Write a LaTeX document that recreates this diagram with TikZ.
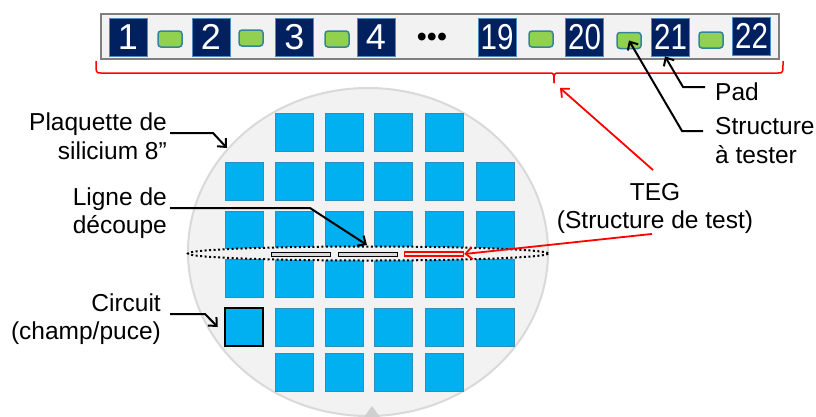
\documentclass[tikz,border=0pt]{standalone}
\usepackage{fontspec}
\setmainfont{Liberation Sans}
\usetikzlibrary{arrows.meta}
\definecolor{navy}{HTML}{002060}
\definecolor{padgreen}{HTML}{92D050}
\definecolor{padedge}{HTML}{31859C}
\definecolor{numedge}{HTML}{4F8AC0}
\definecolor{chipblue}{HTML}{00B0F0}
\definecolor{chipedge}{HTML}{2C8FBF}
\definecolor{wafer}{HTML}{F2F2F2}
\definecolor{waferedge}{HTML}{D9D9D9}
\definecolor{notchgray}{HTML}{D0D0D0}
\definecolor{stripedge}{HTML}{7F7F7F}
\definecolor{tsgray}{HTML}{D9D9D9}
\definecolor{pptred}{HTML}{FF0000}
\begin{document}
\begin{tikzpicture}[x=1pt,y=-1pt,
  numbox/.style={fill=navy, draw=numedge, line width=0.8pt, minimum width=38pt, minimum height=38pt, inner sep=0pt, text=white, font=\fontsize{36}{36}\selectfont},
  padbox/.style={fill=padgreen, draw=padedge, line width=1.5pt, rounded corners=3pt, minimum width=24pt, minimum height=16pt, inner sep=0pt},
  chip/.style={fill=chipblue, draw=chipedge, line width=0.8pt, minimum size=38pt, inner sep=0pt},
  lbl/.style={font=\fontsize{24.5}{28.5}\selectfont, inner sep=0pt},
  arr/.style={draw=black, line width=2pt, -{Straight Barb[length=6.5pt,width=12pt]}},
  redarr/.style={draw=pptred, line width=1.8pt, -{Straight Barb[length=6.5pt,width=12pt]}},
  tsbox/.style={fill=tsgray, draw=black, line width=0.8pt, minimum width=59pt, minimum height=4pt, inner sep=0pt}]
\useasboundingbox (0,0) rectangle (816,416);
% wafer
\draw[fill=wafer, draw=waferedge, line width=2pt] (368,252) ellipse [x radius=180, y radius=164];
\fill[notchgray] (364,417) -- (372,406) -- (380,417) -- cycle;
% chips
\foreach \c/\x in {2/294,3/344,4/393,5/444} {
  \node[chip] (c1\c) at (\x,132) {};
  \node[chip] (c6\c) at (\x,372) {};
}
\foreach \r/\y in {2/181.5,3/230,4/278} {
  \foreach \c/\x in {1/244,2/294,3/344,4/393,5/444,6/495.5} {
    \node[chip] (c\r\c) at (\x,\y) {};
  }
}
\foreach \c/\x in {2/294,3/344,4/393,5/444,6/495.5} {
  \node[chip] (c5\c) at (\x,327) {};
}
\node[chip, draw=black, line width=2.5pt] (circ) at (244,327) {};
% dicing line
\draw[draw=black, line width=2pt, dash pattern=on 2pt off 2.5pt, fill=wafer] (368,253.5) ellipse [x radius=180, y radius=7];
\node[tsbox] (ts1) at (300.5,254) {};
\node[tsbox] (ts2) at (368,254) {};
\node[tsbox, fill=wafer, draw=pptred, line width=1.5pt] (ts3) at (434,254) {};
% strip
\node[draw=stripedge, fill=wafer, line width=1.5pt, minimum width=678pt, minimum height=45pt, inner sep=0pt] (strip) at (440,36.5) {};
\node[numbox] (b1) at (128,37) {1};
\node[numbox] (b2) at (211,37) {2};
\node[numbox] (b3) at (294.5,37) {3};
\node[numbox] (b4) at (376,37) {4};
\node[numbox] (b19) at (497,37) {\scalebox{0.82}[1]{19}};
\node[numbox] (b20) at (584.5,37) {\scalebox{0.82}[1]{20}};
\node[numbox] (b21) at (670.5,37) {\scalebox{0.82}[1]{21}};
\node[numbox] (b22) at (751.5,36) {\scalebox{0.82}[1]{22}};
\node[padbox] (p1) at (170,39) {};
\node[padbox] (p2) at (251,38) {};
\node[padbox] (p3) at (337,39) {};
\node[padbox] (p19) at (541,39) {};
\node[padbox] (p20) at (629,40.5) {};
\node[padbox] (p21) at (711,40) {};
\node[font=\fontsize{28.6}{28.6}\selectfont, anchor=base, inner sep=0pt] (dots) at (432,46.5) {•••};
% brace
\coordinate (bracetip) at (554,83);
\draw[pptred, line width=1.5pt] (96,61) .. controls (96,73) .. (101,73) -- (549,73) .. controls (554,73) .. (bracetip);
\draw[pptred, line width=1.5pt] (bracetip) .. controls (554,73) .. (559,73) -- (778,73) .. controls (783,73) .. (783,61);
% labels
\node[lbl, align=right, anchor=east] (wlbl) at (167,136) {Plaquette de\\silicium 8”};
\node[lbl, align=right, anchor=east] (llbl) at (167,213.4) {Ligne de\\découpe};
\node[lbl, align=right, anchor=east] (clbl) at (161,319.4) {Circuit\\(champ/puce)};
\node[lbl, align=center] (teg) at (655,208.4) {TEG\\(Structure de test)};
\node[lbl, anchor=west] (padlbl) at (715,91.5) {Pad};
\node[lbl, align=left, anchor=west] (stlbl) at (715,140.8) {Structure\\à tester};
% connectors
\coordinate (wstart) at (170,133);
\coordinate (wtip) at (227,148);
\draw[arr] (wstart) -- (213,133) -- (wtip);
\coordinate (lstart) at (170,208);
\coordinate (ltip) at (367,245);
\draw[arr] (lstart) -- (310,208) -- (ltip);
\coordinate (cstart) at (170,314);
\draw[arr] (cstart) -- (205,314) -- ([xshift=-6pt]circ.west);
\coordinate (pstart) at (705,87);
\draw[arr] (pstart) -- (683,87) -- ([xshift=-5.5pt]b21.south);
\coordinate (sstart) at (703,131);
\draw[arr] (sstart) -- (682,131) -- (p20.center);
\coordinate (tstart) at (653,170);
\draw[redarr] (tstart) -- ([shift={(6,5)}]bracetip);
\draw[redarr] ([xshift=-3pt]teg.south) -- (ts3.east);
\end{tikzpicture}
\end{document}
